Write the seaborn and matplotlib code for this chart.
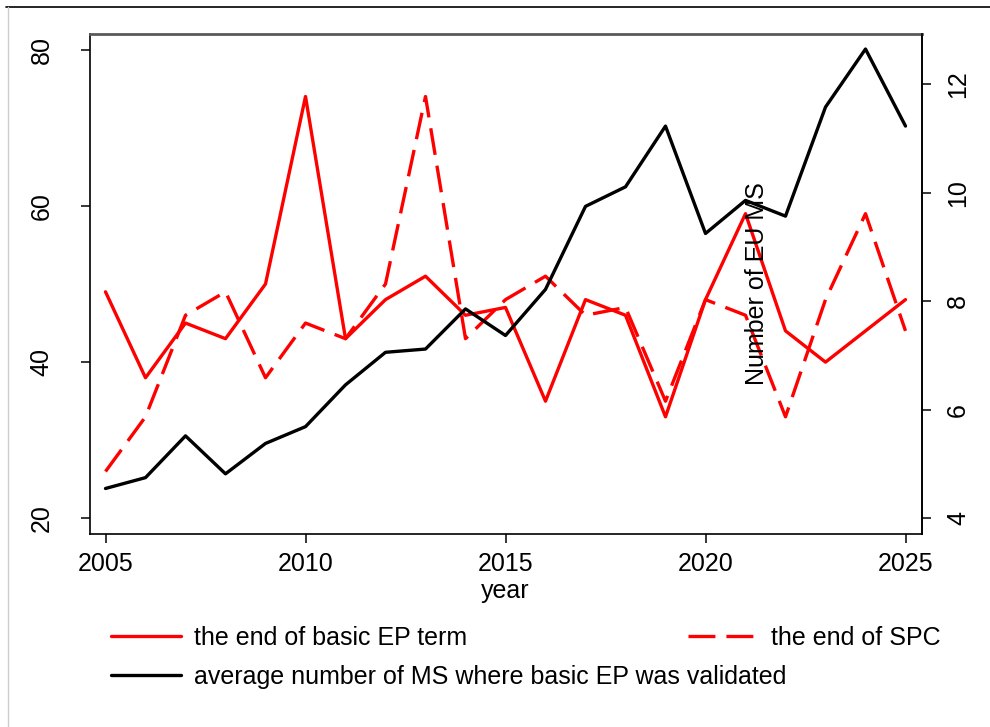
import matplotlib
matplotlib.use("Agg")
import matplotlib.pyplot as plt
import seaborn as sns
import pandas as pd
from matplotlib.lines import Line2D

# ---- data ----
years = list(range(2005, 2026))
ep_term_end = [49, 38, 45, 43, 50, 74, 43, 48, 51, 46, 47, 35, 48, 46, 33, 48, 59, 44, 40, 44, 48]
spc_end = [26, 33, 46, 49, 38, 45, 43, 50, 74, 43, 48, 51, 46, 47, 35, 48, 46, 33, 48, 59, 44]
avg_ms_validated = [4.55, 4.75, 5.52, 4.82, 5.38, 5.69, 6.46, 7.06, 7.12, 7.86, 7.37,
                    8.22, 9.75, 10.11, 11.23, 9.25, 9.86, 9.57, 11.58, 12.65, 11.23]
x_ticks = [2005, 2010, 2015, 2020, 2025]
left_ticks = [20, 40, 60, 80]
right_ticks = [4, 6, 8, 10, 12]
legend_labels = ["the end of basic EP term", "the end of SPC",
                 "average number of MS where basic EP was validated"]

sns.set_theme(style="ticks")
plt.rcParams['font.family'] = ['Liberation Sans', 'DejaVu Sans']
plt.rcParams['lines.scale_dashes'] = False
plt.rcParams['text.color'] = 'black'
plt.rcParams['legend.labelcolor'] = 'black'

df = pd.DataFrame({"year": years, "ep": ep_term_end, "spc": spc_end, "ms": avg_ms_validated})

W, H = 990, 727
fig = plt.figure(figsize=(W / 100, H / 100), dpi=100)
ax = fig.add_axes([89.5 / W, 1 - 534 / H, 832 / W, 500 / H])

sns.lineplot(data=df, x="year", y="ep", ax=ax, color="red", lw=2.4)
sns.lineplot(data=df, x="year", y="spc", ax=ax, color="red", lw=2.4)
ax.lines[1].set_dashes((19.4, 7.9))

ax2 = ax.twinx()
sns.lineplot(data=df, x="year", y="ms", ax=ax2, color="black", lw=2.4)

ax.set_xlim(2004.6, 2025.4)
ax.set_ylim(18, 82)
ax2.set_ylim(3.711, 12.927)
ax.set_xticks(x_ticks)
ax.set_yticks(left_ticks)
ax2.set_yticks(right_ticks)
ax.set_ylabel("")
ax2.set_ylabel("")

ax.set_xlabel("year", fontsize=18, color="black")
ax.xaxis.set_label_coords(0.5, -0.09)

ax.tick_params(axis="x", direction="out", length=6.7, width=1.1, pad=6,
               labelsize=18, colors="black")
ax.tick_params(axis="y", direction="out", length=6.7, width=1.1, pad=19,
               labelsize=18, colors="black")
ax2.tick_params(axis="y", direction="out", length=6.7, width=1.1, pad=11,
                labelsize=18, colors="black")
for lab in ax.get_yticklabels():
    lab.set_rotation(90)
    lab.set_va("center")
for lab in ax2.get_yticklabels():
    lab.set_rotation(90)
    lab.set_va("center")

for s in ["left", "bottom", "right"]:
    ax.spines[s].set_color("black")
    ax.spines[s].set_linewidth(1.2)
ax.spines["top"].set_color("0.35")
ax.spines["top"].set_linewidth(2)
for s in ["left", "bottom", "top"]:
    ax2.spines[s].set_visible(False)
ax2.spines["right"].set_color("black")
ax2.spines["right"].set_linewidth(1.2)

ax2.text(0.802, 0.5, "Number of EU MS", transform=ax.transAxes, rotation=90,
         ha="center", va="center", fontsize=18, color="black", zorder=10)

h_ep, h_spc = ax.lines[0], ax.lines[1]
h_ms = ax2.lines[0]
leg_y = 1 - 626 / H
fig.legend([h_ep, h_ms], [legend_labels[0], legend_labels[2]], loc="upper left",
           bbox_to_anchor=(110.6 / W, leg_y), frameon=False, fontsize=18,
           handlelength=2.8, handletextpad=0.53, borderpad=0, borderaxespad=0,
           labelspacing=0.6, labelcolor="black")
fig.legend([h_spc], [legend_labels[1]], loc="upper left",
           bbox_to_anchor=(688 / W, leg_y), frameon=False, fontsize=18,
           handlelength=2.8, handletextpad=0.53, borderpad=0, borderaxespad=0,
           labelcolor="black")

# outer frame remnants
fig.add_artist(Line2D([6 / W, 1], [1 - 7 / H, 1 - 7 / H], transform=fig.transFigure,
                      color="black", lw=1.2))
fig.add_artist(Line2D([8 / W, 8 / W], [0, 1 - 7 / H], transform=fig.transFigure,
                      color="0.8", lw=1))

fig.savefig("out.png", dpi=100)
